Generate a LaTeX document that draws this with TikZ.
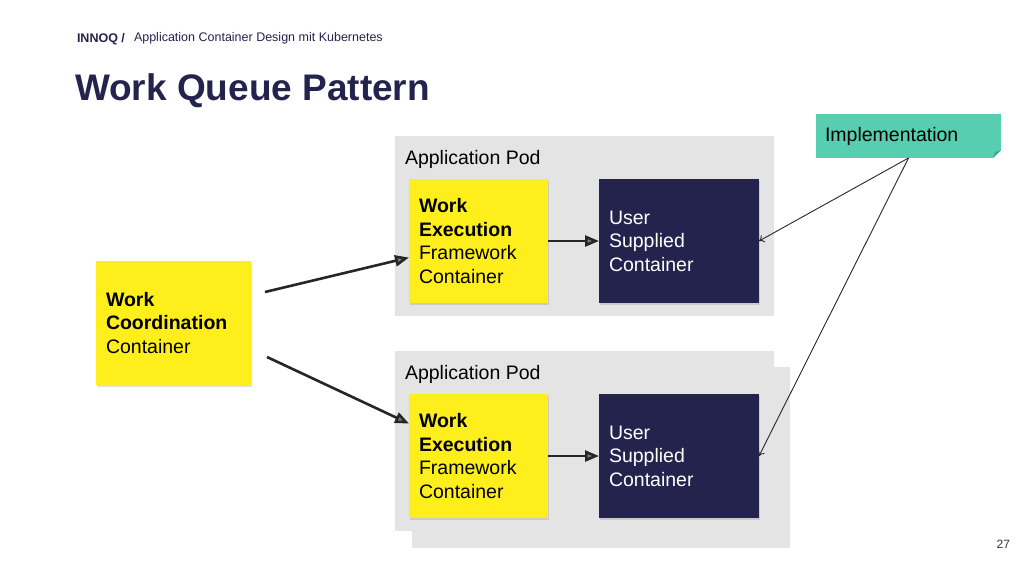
\documentclass[tikz,border=0pt]{standalone}
\usepackage{fontspec}
\setmainfont{Liberation Sans}
\usetikzlibrary{arrows.meta,shadows}

\definecolor{innoqnavy}{HTML}{24234D}
\definecolor{podgray}{HTML}{E4E4E4}
\definecolor{noteyellow}{HTML}{FEEF1C}
\definecolor{noteteal}{HTML}{57CEB0}
\definecolor{notefold}{HTML}{3FA88C}

\begin{document}
\begin{tikzpicture}
  [x=1pt,y=-1pt,every node/.style={inner sep=0pt,outer sep=0pt},
   pod/.style={fill=podgray,minimum width=379pt,minimum height=180pt},
   podlabel/.style={anchor=west,font=\fontsize{19.5}{23}\selectfont},
   yellowbox/.style={fill=noteyellow,minimum height=124pt,align=left,
     font=\fontsize{19.5}{23.5}\selectfont,
     drop shadow={shadow xshift=1pt,shadow yshift=-1.5pt,opacity=.25}},
   userbox/.style={fill=innoqnavy,text=white,minimum width=160pt,minimum height=124pt,
     text width=140pt,align=left,font=\fontsize{19.5}{23.5}\selectfont,
     drop shadow={shadow xshift=1pt,shadow yshift=-1.5pt,opacity=.25}},
   flow/.style={draw=black!85,line width=2.6pt,-{Triangle[length=14pt,width=11pt,fill=black!50]}},
   hint/.style={draw=black!85,line width=.9pt,-{To[length=5pt,width=8pt]}}]
  \useasboundingbox (0,0) rectangle (1024,576);

  % header
  \node[anchor=west,text=innoqnavy,font=\fontsize{12.5}{14}\bfseries] (brand) at (77,39) {INNOQ /};
  \node[anchor=west,text=innoqnavy,font=\fontsize{12.5}{14}\selectfont] (deck) at (134,38) {Application Container Design mit Kubernetes};
  \node[anchor=west,text=innoqnavy,font=\fontsize{37}{40}\bfseries] (title) at (75,91) {Work Queue Pattern};

  % pods
  \node[pod] (poda) at (584.5,226) {};
  \node[pod,minimum width=378pt,minimum height=181pt] (podc) at (601,457.5) {};
  \node[pod] (podb) at (584.5,441) {};
  \node[podlabel] (laba) at (405,159) {Application Pod};
  \node[podlabel] (labb) at (405,374) {Application Pod};

  % containers
  \node[yellowbox,minimum width=155pt,text width=135pt] (coord) at (173.5,323)
    {\textbf{Work}\\\textbf{Coordination}\\Container};
  \node[yellowbox,minimum width=139pt,text width=119pt] (execa) at (478.5,241)
    {\textbf{Work}\\\textbf{Execution}\\Framework\\Container};
  \node[yellowbox,minimum width=139pt,text width=119pt] (execb) at (478.5,456)
    {\textbf{Work}\\\textbf{Execution}\\Framework\\Container};
  \node[userbox] (usera) at (679,241) {User\\Supplied\\Container};
  \node[userbox] (userb) at (679,456) {User\\Supplied\\Container};

  % note
  \node[fill=noteteal,minimum width=185pt,minimum height=44pt,text width=167pt,align=left,
    font=\fontsize{19.5}{23}\selectfont] (impl) at (908.5,136) {\raisebox{2pt}{Implementation}};
  \fill[white] (1001,150) -- (1001,158) -- (993,158) -- cycle;
  \fill[notefold] (1001,150) -- (995,152) -- (993,158) -- cycle;

  \node[anchor=east,text=black!80,font=\fontsize{12}{14}\selectfont] (page) at (1010,544) {27};

  % connectors
  \coordinate (outa) at (265,292);
  \coordinate (outb) at (267,357);
  \foreach \from/\to in {outa/execa,outb/execb,execa/usera,execb/userb}
    \draw[flow] (\from) -- (\to);
  \foreach \to in {usera,userb}
    \draw[hint] (impl.south) -- (\to.east);
\end{tikzpicture}
\end{document}
